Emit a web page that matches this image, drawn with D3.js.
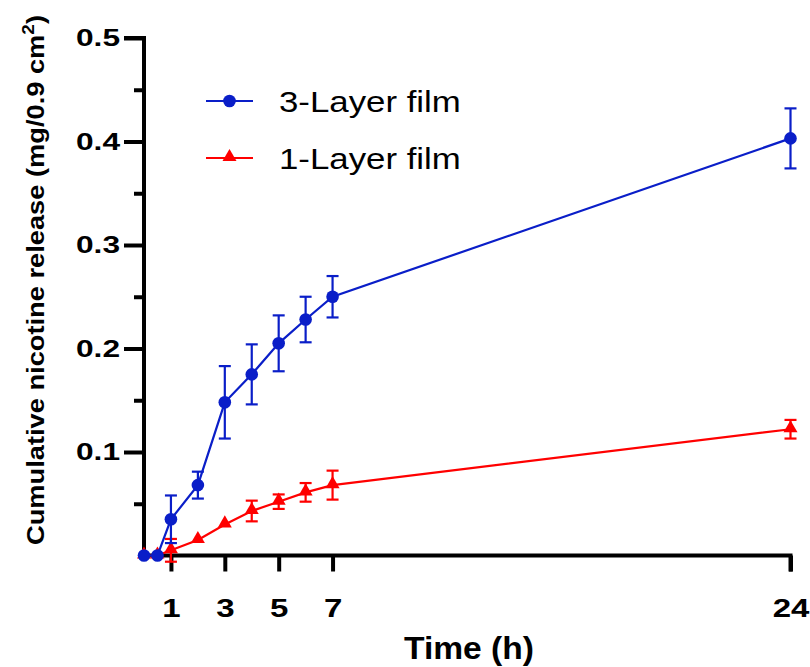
<!DOCTYPE html>
<html>
<head>
<meta charset="utf-8">
<script src="https://cdn.jsdelivr.net/npm/d3@7"></script>
<style>
  body { margin: 0; background: #fff; }
  text { font-family: "Liberation Sans", Arial, sans-serif; }
</style>
</head>
<body>
<script>
// data
var hours = [0, 0.5, 1, 2, 3, 4, 5, 6, 7, 24];
var threeLayer = [0, 0, 0.035, 0.068, 0.148, 0.175, 0.205, 0.228, 0.250, 0.403];
var threeLayerSD = [0, 0, 0.023, 0.013, 0.035, 0.029, 0.027, 0.022, 0.020, 0.029];
var oneLayer = [0, 0, 0.005, 0.015, 0.030, 0.043, 0.052, 0.061, 0.068, 0.122];
var oneLayerSD = [0, 0, 0.011, 0.002, 0.002, 0.010, 0.007, 0.009, 0.014, 0.009];
var xTicks = [1, 3, 5, 7, 24];
var yTicks = [0.1, 0.2, 0.3, 0.4, 0.5];
var yMinor = [0.05, 0.15, 0.25, 0.35, 0.45];

var width = 810, height = 667;
var margin = {top: 38, right: 20, bottom: 112, left: 144};

var svg = d3.select("body").append("svg")
    .attr("width", width)
    .attr("height", height);

var x = d3.scaleLinear().domain([0, 24]).range([margin.left, 790.5]);
var y = d3.scaleLinear().domain([0, 0.5]).range([555.5, margin.top]);

// the original text is drawn wider than Liberation Sans, stretch it
function widen(sel, k) {
  sel.each(function() {
    var w = this.getComputedTextLength();
    d3.select(this).attr("textLength", w * k).attr("lengthAdjust", "spacingAndGlyphs");
  });
}

// axes
var xAxis = svg.append("g")
    .attr("transform", "translate(0," + y(0) + ")")
    .call(d3.axisBottom(x).tickValues(xTicks).tickSize(16).tickPadding(28).tickFormat(d3.format("d")));

var yAxis = svg.append("g")
    .attr("transform", "translate(" + x(0) + ",0)")
    .call(d3.axisLeft(y).tickValues(yTicks).tickSize(20).tickPadding(4).tickFormat(d3.format(".1f")));

svg.append("g")
    .attr("transform", "translate(" + x(0) + ",0)")
    .call(d3.axisLeft(y).tickValues(yMinor).tickSize(10).tickFormat(""))
    .select(".domain").remove();

svg.selectAll(".domain, .tick line")
    .attr("stroke", "#000")
    .attr("stroke-width", 4);
xAxis.select(".domain").attr("d", "M" + (x(0) - 2) + ",0H" + x(24) + "V16");
yAxis.select(".domain").attr("d", "M0," + (y(0) + 2) + "V" + y(0.5) + "H-20");

svg.selectAll(".tick text")
    .attr("font-size", 24)
    .attr("font-weight", "bold")
    .attr("fill", "#000");
xAxis.selectAll(".tick text").attr("font-size", 25);
widen(svg.selectAll(".tick text"), 1.32);

// axis titles
svg.append("text")
    .attr("x", 469)
    .attr("y", 659)
    .attr("text-anchor", "middle")
    .attr("font-size", 32)
    .attr("font-weight", "bold")
    .text("Time (h)")
    .call(widen, 1.05);

var yTitle = svg.append("text")
    .attr("transform", "translate(44,280) rotate(-90)")
    .attr("text-anchor", "middle")
    .attr("font-size", 23)
    .attr("font-weight", "bold");
yTitle.append("tspan").text("Cumulative nicotine release (mg/0.9 cm");
yTitle.append("tspan").attr("dy", -10).attr("font-size", 16).text("2");
yTitle.append("tspan").attr("dy", 10).text(")");
widen(yTitle, 530 / yTitle.node().getComputedTextLength());

// series
var series = [
  {name: "3-Layer film", values: threeLayer, sd: threeLayerSD, color: "#0a1ec8", marker: "circle"},
  {name: "1-Layer film", values: oneLayer, sd: oneLayerSD, color: "#ff0000", marker: "triangle"}
];

var line = d3.line()
    .x(function(d) { return x(d.t); })
    .y(function(d) { return y(d.v); });

var symCircle = d3.symbol().type(d3.symbolCircle).size(125);
var symTri = d3.symbol().type(d3.symbolTriangle).size(85);

// draw red first so blue sits on top at zero
series.slice().reverse().forEach(function(s) {
  var pts = hours.map(function(t, i) { return {t: t, v: s.values[i], sd: s.sd[i]}; });
  var g = svg.append("g");

  g.append("path")
      .datum(pts)
      .attr("d", line)
      .attr("fill", "none")
      .attr("stroke", s.color)
      .attr("stroke-width", 2.2);

  var err = g.selectAll(".err")
      .data(pts.filter(function(d) { return d.sd > 0.004; }))
    .enter().append("g")
      .attr("stroke", s.color)
      .attr("stroke-width", 2.2);
  err.append("line")
      .attr("x1", function(d) { return x(d.t); })
      .attr("x2", function(d) { return x(d.t); })
      .attr("y1", function(d) { return y(d.v + d.sd); })
      .attr("y2", function(d) { return y(d.v - d.sd); });
  [1, -1].forEach(function(k) {
    err.append("line")
        .attr("x1", function(d) { return x(d.t) - 6; })
        .attr("x2", function(d) { return x(d.t) + 6; })
        .attr("y1", function(d) { return y(d.v + k * d.sd); })
        .attr("y2", function(d) { return y(d.v + k * d.sd); });
  });

  g.selectAll(".pt")
      .data(pts)
    .enter().append("path")
      .attr("transform", function(d) { return "translate(" + x(d.t) + "," + (y(d.v) + (s.marker === "triangle" ? -1 : 0)) + ")"; })
      .attr("d", s.marker === "circle" ? symCircle : symTri)
      .attr("fill", s.color);
});

// legend
var legend = svg.selectAll(".legend")
    .data(series)
  .enter().append("g")
    .attr("transform", function(d, i) { return "translate(206," + (101 + i * 57) + ")"; });

legend.append("line")
    .attr("x1", 0).attr("x2", 47)
    .attr("stroke", function(d) { return d.color; })
    .attr("stroke-width", 2.2);
legend.append("path")
    .attr("transform", function(d) { return "translate(23.5," + (d.marker === "triangle" ? -1 : 0) + ")"; })
    .attr("d", function(d) { return d.marker === "circle" ? symCircle() : symTri(); })
    .attr("fill", function(d) { return d.color; });
legend.append("text")
    .attr("x", 73)
    .attr("y", 11)
    .attr("font-size", 29)
    .attr("fill", "#000")
    .text(function(d) { return d.name; })
    .call(widen, 1.2);
</script>
</body>
</html>
